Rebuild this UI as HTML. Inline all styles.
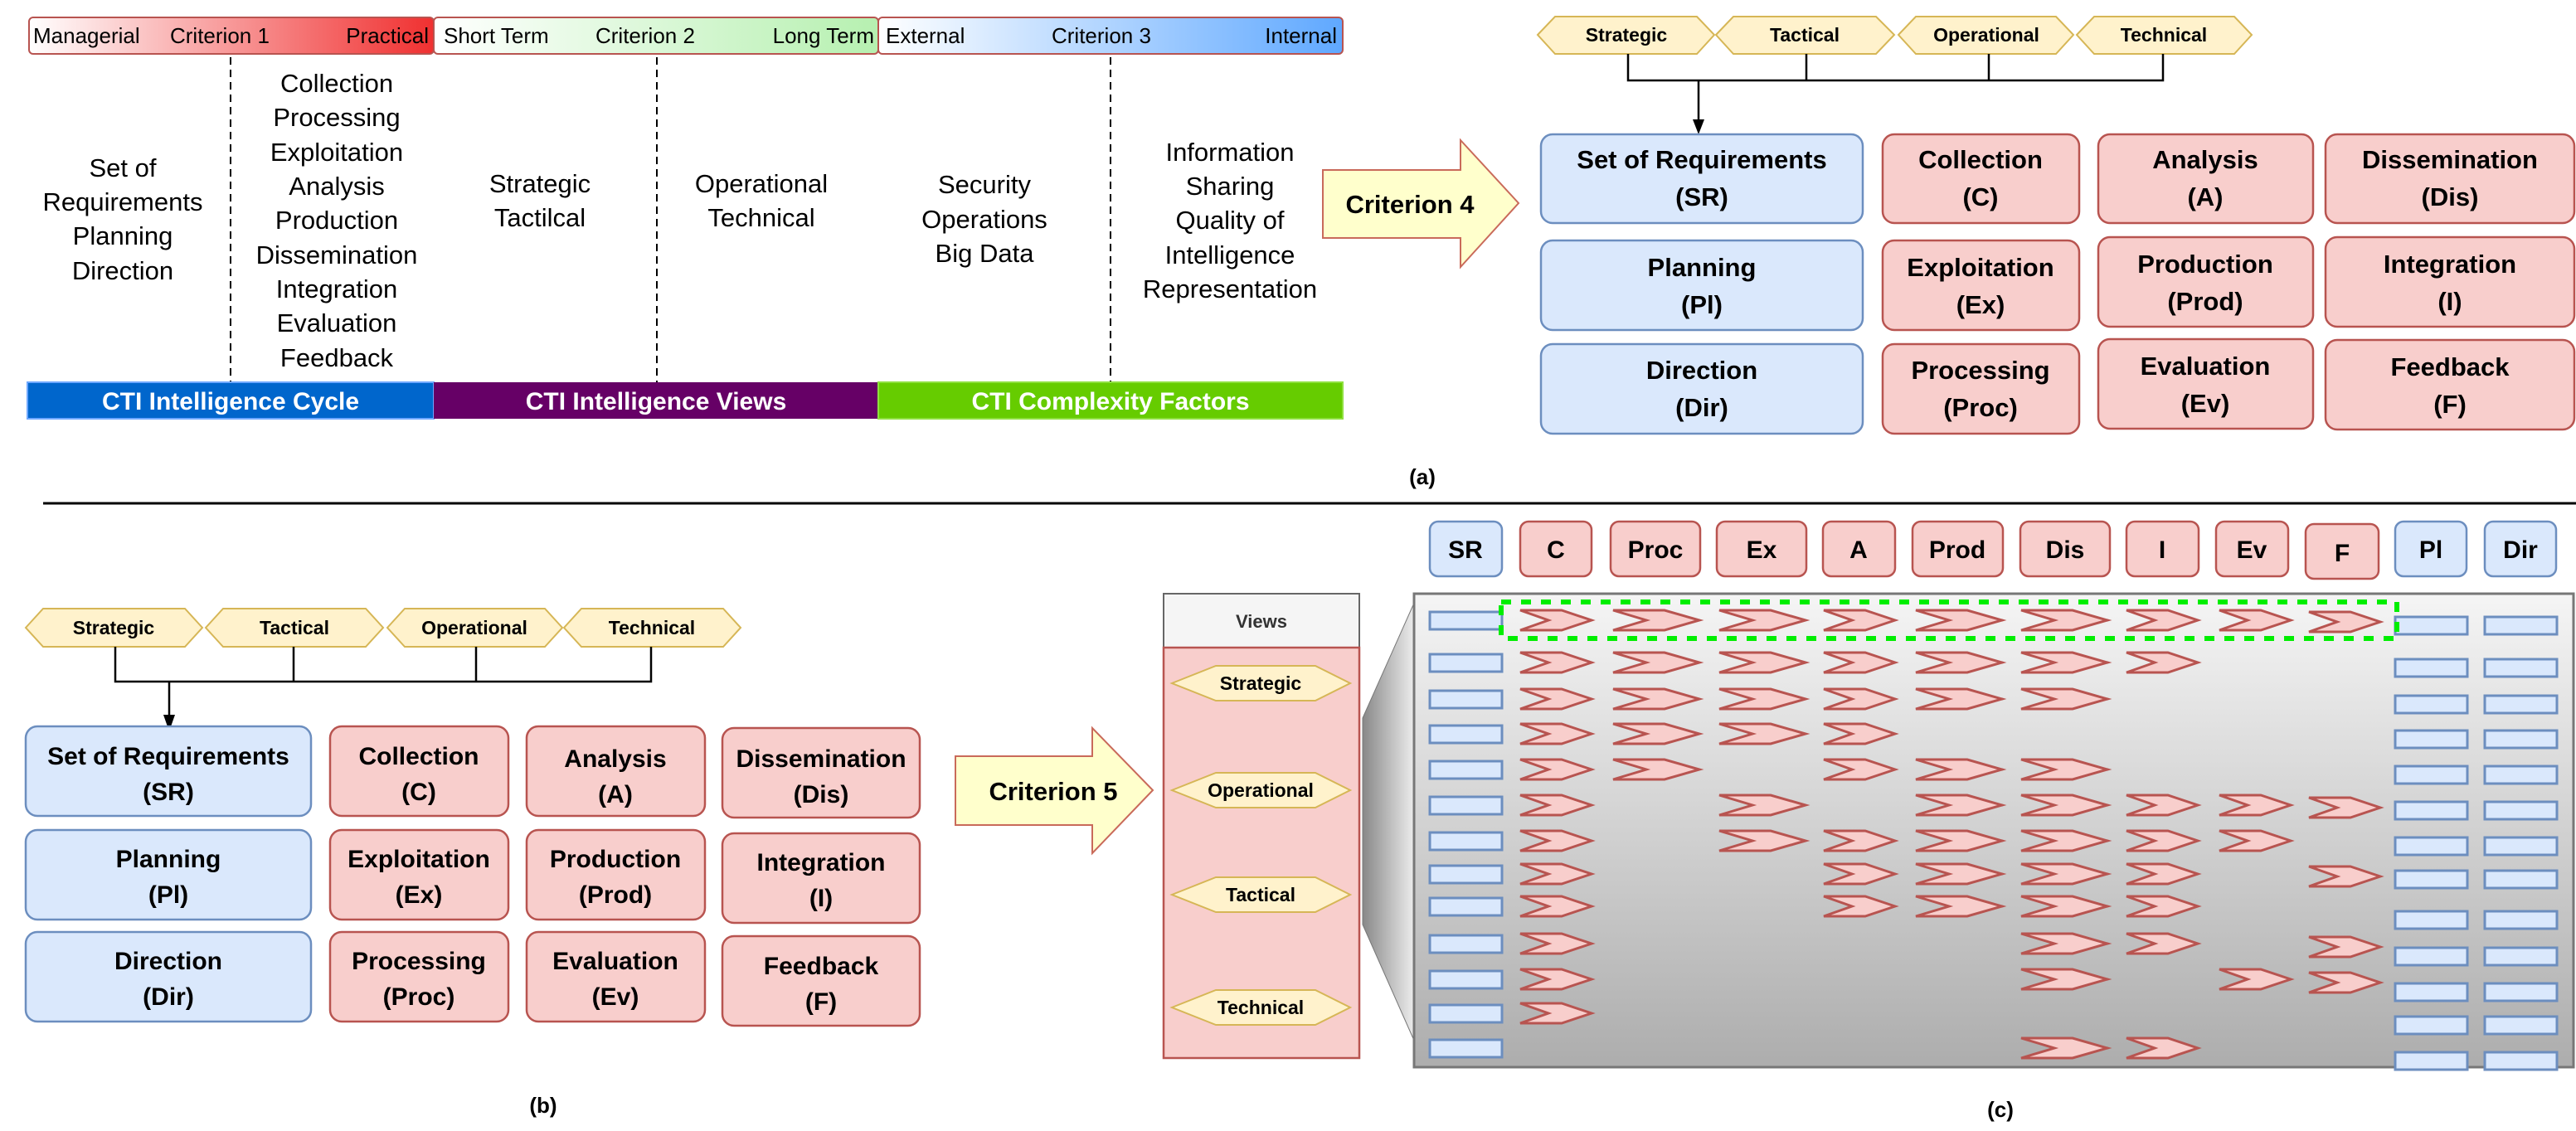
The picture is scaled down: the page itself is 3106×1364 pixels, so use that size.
<!DOCTYPE html>
<html><head><meta charset="utf-8"><style>
html,body{margin:0;padding:0;background:#fff;}
svg{display:block;font-family:"Liberation Sans",Arial,sans-serif;}
</style></head><body>
<svg width="3106" height="1364" viewBox="0 0 3106 1364" xmlns="http://www.w3.org/2000/svg">
<defs>
<linearGradient id="g1" x1="0" x2="1"><stop offset="0" stop-color="#fff"/><stop offset="1" stop-color="#f03030"/></linearGradient>
<linearGradient id="g2" x1="0" x2="1"><stop offset="0" stop-color="#fff"/><stop offset="1" stop-color="#b6f0b0"/></linearGradient>
<linearGradient id="g3" x1="0" x2="1"><stop offset="0" stop-color="#fff"/><stop offset="1" stop-color="#5fa8ff"/></linearGradient>
<linearGradient id="gg" x1="0" y1="0" x2="0" y2="1"><stop offset="0" stop-color="#f5f5f5"/><stop offset="1" stop-color="#adadad"/></linearGradient>
<linearGradient id="gt" x1="0" x2="1"><stop offset="0" stop-color="#888"/><stop offset="1" stop-color="#eee"/></linearGradient>
<polygon id="cn" points="0,0 50,0 86,12 50,24 0,24 34,12" fill="#f8cecc" stroke="#b85450" stroke-width="3"/>
<polygon id="cw" points="0,0 62,0 104,12 62,24 0,24 40,12" fill="#f8cecc" stroke="#b85450" stroke-width="3"/>
<rect id="br" width="87" height="21" fill="#dae8fc" stroke="#6c8ebf" stroke-width="3"/>
</defs>

<!-- (a) left criteria -->
<g stroke="#b85450" stroke-width="2">
<rect x="35" y="21" width="488" height="44" rx="5" fill="url(#g1)"/>
<rect x="523" y="21" width="536" height="44" rx="5" fill="url(#g2)"/>
<rect x="1059" y="21" width="560" height="44" rx="5" fill="url(#g3)"/>
</g>
<g font-size="26" fill="#000">
<text x="40" y="52">Managerial</text><text x="205" y="52">Criterion 1</text><text x="517" y="52" text-anchor="end">Practical</text>
<text x="535" y="52">Short Term</text><text x="718" y="52">Criterion 2</text><text x="1054" y="52" text-anchor="end">Long Term</text>
<text x="1068" y="52">External</text><text x="1268" y="52">Criterion 3</text><text x="1612" y="52" text-anchor="end">Internal</text>
</g>
<g stroke="#000" stroke-width="2" stroke-dasharray="9,6">
<line x1="278" y1="69" x2="278" y2="462"/><line x1="792" y1="69" x2="792" y2="462"/><line x1="1339" y1="69" x2="1339" y2="462"/>
</g>
<g font-size="31" text-anchor="middle" fill="#000">
<text x="148" y="213">Set of</text><text x="148" y="254">Requirements</text><text x="148" y="295">Planning</text><text x="148" y="337">Direction</text>
<text x="406" y="111">Collection</text><text x="406" y="152">Processing</text><text x="406" y="194">Exploitation</text><text x="406" y="235">Analysis</text><text x="406" y="276">Production</text><text x="406" y="318">Dissemination</text><text x="406" y="359">Integration</text><text x="406" y="400">Evaluation</text><text x="406" y="442">Feedback</text>
<text x="651" y="232">Strategic</text><text x="651" y="273">Tactilcal</text>
<text x="918" y="232">Operational</text><text x="918" y="273">Technical</text>
<text x="1187" y="233">Security</text><text x="1187" y="275">Operations</text><text x="1187" y="316">Big Data</text>
<text x="1483" y="194">Information</text><text x="1483" y="235">Sharing</text><text x="1483" y="276">Quality of</text><text x="1483" y="318">Intelligence</text><text x="1483" y="359">Representation</text>
</g>
<rect x="33" y="461" width="490" height="44" fill="#0066cc" stroke="#6ea8ff" stroke-width="2"/>
<rect x="523" y="461" width="536" height="44" fill="#660066"/>
<rect x="1059" y="461" width="560" height="44" fill="#66cc00" stroke="#8fe040" stroke-width="2"/>
<g font-size="30" font-weight="bold" fill="#fff" text-anchor="middle">
<text x="278" y="494">CTI Intelligence Cycle</text><text x="791" y="494">CTI Intelligence Views</text><text x="1339" y="494">CTI Complexity Factors</text>
</g>

<!-- Criterion 4 arrow -->
<polygon points="1595,205 1761,205 1761,169 1831,245 1761,322 1761,287 1595,287" fill="#ffffcc" stroke="#c96a5a" stroke-width="2"/>
<text x="1700" y="257" font-size="31" font-weight="bold" text-anchor="middle">Criterion 4</text>

<!-- (a) right hexes -->
<g fill="#fff2cc" stroke="#d6b656" stroke-width="2">
<polygon points="1854,42 1875,20 2046,20 2067,42 2046,65 1875,65"/>
<polygon points="2069,42 2090,20 2262,20 2284,42 2262,65 2090,65"/>
<polygon points="2289,42 2310,20 2479,20 2500,42 2479,65 2310,65"/>
<polygon points="2504,42 2525,20 2694,20 2715,42 2694,65 2525,65"/>
</g>
<g font-size="23" font-weight="bold" text-anchor="middle">
<text x="1961" y="50">Strategic</text><text x="2176" y="50">Tactical</text><text x="2395" y="50">Operational</text><text x="2609" y="50">Technical</text>
</g>
<g stroke="#000" stroke-width="2.5" fill="none">
<polyline points="1963,65 1963,97 2608,97 2608,65"/><line x1="2178" y1="65" x2="2178" y2="97"/><line x1="2398" y1="65" x2="2398" y2="97"/>
<line x1="2048" y1="97" x2="2048" y2="148"/>
</g>
<polygon points="2041,144 2055,144 2048,162" fill="#000"/>
<g stroke-width="2.5">
<rect x="1858" y="162" width="388" height="107" rx="14" fill="#dae8fc" stroke="#6c8ebf"/>
<rect x="1858" y="290" width="388" height="108" rx="14" fill="#dae8fc" stroke="#6c8ebf"/>
<rect x="1858" y="415" width="388" height="108" rx="14" fill="#dae8fc" stroke="#6c8ebf"/>
<rect x="2270" y="162" width="237" height="107" rx="14" fill="#f8cecc" stroke="#b85450"/>
<rect x="2270" y="290" width="237" height="108" rx="14" fill="#f8cecc" stroke="#b85450"/>
<rect x="2270" y="415" width="237" height="108" rx="14" fill="#f8cecc" stroke="#b85450"/>
<rect x="2530" y="162" width="259" height="107" rx="14" fill="#f8cecc" stroke="#b85450"/>
<rect x="2530" y="286" width="259" height="108" rx="14" fill="#f8cecc" stroke="#b85450"/>
<rect x="2530" y="409" width="259" height="108" rx="14" fill="#f8cecc" stroke="#b85450"/>
<rect x="2804" y="162" width="300" height="107" rx="14" fill="#f8cecc" stroke="#b85450"/>
<rect x="2804" y="286" width="300" height="108" rx="14" fill="#f8cecc" stroke="#b85450"/>
<rect x="2804" y="410" width="300" height="108" rx="14" fill="#f8cecc" stroke="#b85450"/>
</g>
<g font-size="31" font-weight="bold" text-anchor="middle">
<text x="2052" y="203">Set of Requirements</text><text x="2052" y="248">(SR)</text>
<text x="2052" y="333">Planning</text><text x="2052" y="378">(Pl)</text>
<text x="2052" y="457">Direction</text><text x="2052" y="502">(Dir)</text>
<text x="2388" y="203">Collection</text><text x="2388" y="248">(C)</text>
<text x="2388" y="333">Exploitation</text><text x="2388" y="378">(Ex)</text>
<text x="2388" y="457">Processing</text><text x="2388" y="502">(Proc)</text>
<text x="2659" y="203">Analysis</text><text x="2659" y="248">(A)</text>
<text x="2659" y="329">Production</text><text x="2659" y="374">(Prod)</text>
<text x="2659" y="452">Evaluation</text><text x="2659" y="497">(Ev)</text>
<text x="2954" y="203">Dissemination</text><text x="2954" y="248">(Dis)</text>
<text x="2954" y="329">Integration</text><text x="2954" y="374">(I)</text>
<text x="2954" y="453">Feedback</text><text x="2954" y="498">(F)</text>
</g>
<text x="1715" y="584" font-size="26" font-weight="bold" text-anchor="middle">(a)</text>

<line x1="52" y1="607" x2="3106" y2="607" stroke="#000" stroke-width="3"/>

<!-- (b) -->
<g fill="#fff2cc" stroke="#d6b656" stroke-width="2">
<polygon points="31,757 52,734 223,734 244,757 223,780 52,780"/>
<polygon points="248,757 269,734 441,734 462,757 441,780 269,780"/>
<polygon points="467,757 488,734 657,734 678,757 657,780 488,780"/>
<polygon points="680,757 701,734 872,734 893,757 872,780 701,780"/>
</g>
<g font-size="23" font-weight="bold" text-anchor="middle">
<text x="137" y="765">Strategic</text><text x="355" y="765">Tactical</text><text x="572" y="765">Operational</text><text x="786" y="765">Technical</text>
</g>
<g stroke="#000" stroke-width="2.5" fill="none">
<polyline points="139,780 139,822 785,822 785,780"/><line x1="354" y1="780" x2="354" y2="822"/><line x1="574" y1="780" x2="574" y2="822"/>
<line x1="204" y1="822" x2="204" y2="866"/>
</g>
<polygon points="197,862 211,862 204,882" fill="#000"/>
<g stroke-width="2.5">
<rect x="31" y="876" width="344" height="108" rx="14" fill="#dae8fc" stroke="#6c8ebf"/>
<rect x="31" y="1001" width="344" height="108" rx="14" fill="#dae8fc" stroke="#6c8ebf"/>
<rect x="31" y="1124" width="344" height="108" rx="14" fill="#dae8fc" stroke="#6c8ebf"/>
<rect x="398" y="876" width="215" height="108" rx="14" fill="#f8cecc" stroke="#b85450"/>
<rect x="398" y="1001" width="215" height="108" rx="14" fill="#f8cecc" stroke="#b85450"/>
<rect x="398" y="1124" width="215" height="108" rx="14" fill="#f8cecc" stroke="#b85450"/>
<rect x="635" y="876" width="215" height="108" rx="14" fill="#f8cecc" stroke="#b85450"/>
<rect x="635" y="1001" width="215" height="108" rx="14" fill="#f8cecc" stroke="#b85450"/>
<rect x="635" y="1124" width="215" height="108" rx="14" fill="#f8cecc" stroke="#b85450"/>
<rect x="871" y="878" width="238" height="108" rx="14" fill="#f8cecc" stroke="#b85450"/>
<rect x="871" y="1005" width="238" height="108" rx="14" fill="#f8cecc" stroke="#b85450"/>
<rect x="871" y="1129" width="238" height="108" rx="14" fill="#f8cecc" stroke="#b85450"/>
</g>
<g font-size="30" font-weight="bold" text-anchor="middle">
<text x="203" y="922">Set of Requirements</text><text x="203" y="965">(SR)</text>
<text x="203" y="1046">Planning</text><text x="203" y="1089">(Pl)</text>
<text x="203" y="1169">Direction</text><text x="203" y="1212">(Dir)</text>
<text x="505" y="922">Collection</text><text x="505" y="965">(C)</text>
<text x="505" y="1046">Exploitation</text><text x="505" y="1089">(Ex)</text>
<text x="505" y="1169">Processing</text><text x="505" y="1212">(Proc)</text>
<text x="742" y="925">Analysis</text><text x="742" y="968">(A)</text>
<text x="742" y="1046">Production</text><text x="742" y="1089">(Prod)</text>
<text x="742" y="1169">Evaluation</text><text x="742" y="1212">(Ev)</text>
<text x="990" y="925">Dissemination</text><text x="990" y="968">(Dis)</text>
<text x="990" y="1050">Integration</text><text x="990" y="1093">(I)</text>
<text x="990" y="1175">Feedback</text><text x="990" y="1218">(F)</text>
</g>
<polygon points="1152,912 1317,912 1317,878 1390,953 1317,1029 1317,995 1152,995" fill="#ffffcc" stroke="#c96a5a" stroke-width="2"/>
<text x="1270" y="965" font-size="31" font-weight="bold" text-anchor="middle">Criterion 5</text>
<text x="655" y="1342" font-size="26" font-weight="bold" text-anchor="middle">(b)</text>

<!-- (c) views panel -->
<polygon points="1643,866 1706,725 1706,1257 1643,1115" fill="url(#gt)" stroke="#777" stroke-width="1"/>
<rect x="1403" y="716" width="236" height="65" fill="#f5f5f5" stroke="#666" stroke-width="2"/>
<rect x="1403" y="781" width="236" height="495" fill="#f8cecc" stroke="#b85450" stroke-width="2.5"/>
<text x="1521" y="757" font-size="22" font-weight="bold" fill="#333" text-anchor="middle">Views</text>
<g fill="#fff2cc" stroke="#d6b656" stroke-width="2">
<polygon points="1413,824 1466,803 1586,803 1628,824 1586,845 1466,845"/>
<polygon points="1413,953 1466,932 1586,932 1628,953 1586,974 1466,974"/>
<polygon points="1413,1079 1466,1058 1586,1058 1628,1079 1586,1100 1466,1100"/>
<polygon points="1413,1215 1466,1194 1586,1194 1628,1215 1586,1236 1466,1236"/>
</g>
<g font-size="23" font-weight="bold" text-anchor="middle">
<text x="1520" y="832">Strategic</text><text x="1520" y="961">Operational</text><text x="1520" y="1087">Tactical</text><text x="1520" y="1223">Technical</text>
</g>

<!-- (c) header -->
<g stroke-width="2.5">
<rect x="1724" y="629" width="87" height="66" rx="10" fill="#dae8fc" stroke="#6c8ebf"/>
<rect x="1833" y="629" width="86" height="66" rx="10" fill="#f8cecc" stroke="#b85450"/>
<rect x="1942" y="629" width="108" height="66" rx="10" fill="#f8cecc" stroke="#b85450"/>
<rect x="2070" y="629" width="108" height="66" rx="10" fill="#f8cecc" stroke="#b85450"/>
<rect x="2198" y="629" width="87" height="66" rx="10" fill="#f8cecc" stroke="#b85450"/>
<rect x="2306" y="629" width="109" height="66" rx="10" fill="#f8cecc" stroke="#b85450"/>
<rect x="2436" y="629" width="108" height="66" rx="10" fill="#f8cecc" stroke="#b85450"/>
<rect x="2564" y="629" width="87" height="66" rx="10" fill="#f8cecc" stroke="#b85450"/>
<rect x="2672" y="629" width="87" height="66" rx="10" fill="#f8cecc" stroke="#b85450"/>
<rect x="2780" y="632" width="88" height="66" rx="10" fill="#f8cecc" stroke="#b85450"/>
<rect x="2888" y="629" width="86" height="66" rx="10" fill="#dae8fc" stroke="#6c8ebf"/>
<rect x="2996" y="629" width="86" height="66" rx="10" fill="#dae8fc" stroke="#6c8ebf"/>
</g>
<g font-size="30" font-weight="bold" text-anchor="middle">
<text x="1767" y="673">SR</text><text x="1876" y="673">C</text><text x="1996" y="673">Proc</text><text x="2124" y="673">Ex</text><text x="2241" y="673">A</text><text x="2360" y="673">Prod</text><text x="2490" y="673">Dis</text><text x="2607" y="673">I</text><text x="2715" y="673">Ev</text><text x="2824" y="677">F</text><text x="2931" y="673">Pl</text><text x="3039" y="673">Dir</text>
</g>

<!-- (c) grid -->
<rect x="1705" y="716" width="1398" height="571" fill="url(#gg)" stroke="#777" stroke-width="3"/>
<g>
<use href="#br" x="1724" y="738"/><use href="#br" x="1724" y="789"/><use href="#br" x="1724" y="833"/><use href="#br" x="1724" y="875"/><use href="#br" x="1724" y="918"/><use href="#br" x="1724" y="961"/><use href="#br" x="1724" y="1004"/><use href="#br" x="1724" y="1044"/><use href="#br" x="1724" y="1083"/><use href="#br" x="1724" y="1128"/><use href="#br" x="1724" y="1171"/><use href="#br" x="1724" y="1212"/><use href="#br" x="1724" y="1254"/>
<use href="#br" x="2888" y="744"/><use href="#br" x="2888" y="795"/><use href="#br" x="2888" y="839"/><use href="#br" x="2888" y="881"/><use href="#br" x="2888" y="924"/><use href="#br" x="2888" y="967"/><use href="#br" x="2888" y="1010"/><use href="#br" x="2888" y="1050"/><use href="#br" x="2888" y="1099"/><use href="#br" x="2888" y="1143"/><use href="#br" x="2888" y="1186"/><use href="#br" x="2888" y="1226"/><use href="#br" x="2888" y="1269"/>
<use href="#br" x="2996" y="744"/><use href="#br" x="2996" y="795"/><use href="#br" x="2996" y="839"/><use href="#br" x="2996" y="881"/><use href="#br" x="2996" y="924"/><use href="#br" x="2996" y="967"/><use href="#br" x="2996" y="1010"/><use href="#br" x="2996" y="1050"/><use href="#br" x="2996" y="1099"/><use href="#br" x="2996" y="1143"/><use href="#br" x="2996" y="1186"/><use href="#br" x="2996" y="1226"/><use href="#br" x="2996" y="1269"/>
</g>
<g>
<use href="#cn" x="1833" y="736"/><use href="#cw" x="1945" y="736"/><use href="#cw" x="2073" y="736"/><use href="#cn" x="2199" y="736"/><use href="#cw" x="2310" y="736"/><use href="#cw" x="2437" y="736"/><use href="#cn" x="2564" y="736"/><use href="#cn" x="2676" y="736"/><use href="#cn" x="2784" y="738"/>
<use href="#cn" x="1833" y="787"/><use href="#cw" x="1945" y="787"/><use href="#cw" x="2073" y="787"/><use href="#cn" x="2199" y="787"/><use href="#cw" x="2310" y="787"/><use href="#cw" x="2437" y="787"/><use href="#cn" x="2564" y="787"/>
<use href="#cn" x="1833" y="831"/><use href="#cw" x="1945" y="831"/><use href="#cw" x="2073" y="831"/><use href="#cn" x="2199" y="831"/><use href="#cw" x="2310" y="831"/><use href="#cw" x="2437" y="831"/>
<use href="#cn" x="1833" y="873"/><use href="#cw" x="1945" y="873"/><use href="#cw" x="2073" y="873"/><use href="#cn" x="2199" y="873"/>
<use href="#cn" x="1833" y="916"/><use href="#cw" x="1945" y="916"/><use href="#cn" x="2199" y="916"/><use href="#cw" x="2310" y="916"/><use href="#cw" x="2437" y="916"/>
<use href="#cn" x="1833" y="959"/><use href="#cw" x="2073" y="959"/><use href="#cw" x="2310" y="959"/><use href="#cw" x="2437" y="959"/><use href="#cn" x="2564" y="959"/><use href="#cn" x="2676" y="959"/><use href="#cn" x="2784" y="962"/>
<use href="#cn" x="1833" y="1002"/><use href="#cw" x="2073" y="1002"/><use href="#cn" x="2199" y="1002"/><use href="#cw" x="2310" y="1002"/><use href="#cw" x="2437" y="1002"/><use href="#cn" x="2564" y="1002"/><use href="#cn" x="2676" y="1002"/>
<use href="#cn" x="1833" y="1042"/><use href="#cn" x="2199" y="1042"/><use href="#cw" x="2310" y="1042"/><use href="#cw" x="2437" y="1042"/><use href="#cn" x="2564" y="1042"/><use href="#cn" x="2784" y="1045"/>
<use href="#cn" x="1833" y="1081"/><use href="#cn" x="2199" y="1081"/><use href="#cw" x="2310" y="1081"/><use href="#cw" x="2437" y="1081"/><use href="#cn" x="2564" y="1081"/>
<use href="#cn" x="1833" y="1126"/><use href="#cw" x="2437" y="1126"/><use href="#cn" x="2564" y="1126"/><use href="#cn" x="2784" y="1130"/>
<use href="#cn" x="1833" y="1169"/><use href="#cw" x="2437" y="1169"/><use href="#cn" x="2676" y="1169"/><use href="#cn" x="2784" y="1173"/>
<use href="#cn" x="1833" y="1210"/>
<use href="#cw" x="2437" y="1252"/><use href="#cn" x="2564" y="1252"/>
</g>
<rect x="1810" y="726" width="1080" height="44" fill="none" stroke="#00ee00" stroke-width="6" stroke-dasharray="12,12"/>
<text x="2412" y="1347" font-size="26" font-weight="bold" text-anchor="middle">(c)</text>
</svg>
</body></html>
